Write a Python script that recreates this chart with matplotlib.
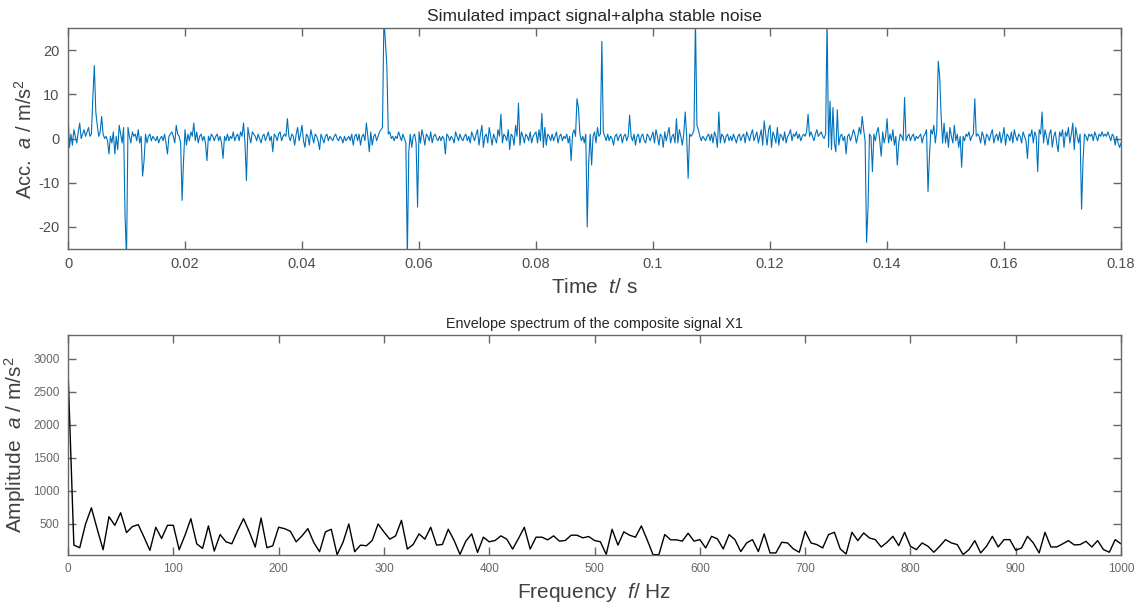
import numpy as np
import matplotlib.pyplot as plt
from matplotlib.ticker import FuncFormatter

plt.rcParams['font.family'] = ['Liberation Sans', 'DejaVu Sans']
plt.rcParams['mathtext.fontset'] = 'custom'
plt.rcParams['mathtext.rm'] = 'Liberation Sans'
plt.rcParams['mathtext.it'] = 'Liberation Sans:italic'
plt.rcParams['axes.unicode_minus'] = False

# Time signal over 0.18 s, one value every 0.25 ms
signal = [
    5.5, -2.0, 1.0, -1.5, 2.0, 0.5, -1.0, 1.5, 3.5, 0.0, 1.0, 2.0, 0.5, 1.5, 2.5, 0.5, 1.0, 9.5, 16.5, 6.0,
    3.0, 0.5, 1.5, 5.0, 1.0, 0.0, 0.5, -0.5, -3.5, 0.5, -1.0, 1.5, -3.5, 0.5, -2.5, 3.0, 1.0, -1.0, 2.5, -17.5,
    -27.0, 2.5, 0.5, -1.0, 1.5, 0.5, 1.0, -0.5, 2.0, -1.0, 0.5, -8.5, -5.0, 1.0, -1.0, 0.5, 1.0, -0.5, 0.5, 0.0,
    -0.5, 0.5, -1.0, 0.0, 0.5, -0.5, 1.0, -1.0, -3.5, 0.5, 1.0, 1.5, 0.5, -1.0, 3.0, 1.0, 0.5, -1.0, -14.0, -5.0,
    2.0, -1.5, 1.0, -0.5, 1.5, 0.5, 3.5, -0.5, 1.5, -1.0, 0.5, 1.0, -0.5, 0.5, -1.0, -5.0, 0.5, -0.5, 1.0, 0.5,
    -0.5, 0.5, 1.0, -0.5, 0.5, -1.0, -4.5, 0.5, -0.5, 1.0, -0.5, 0.5, 0.0, 1.5, -0.5, 0.5, 1.0, -0.5, 1.5, 0.5,
    3.5, -1.0, -9.5, 2.5, 0.5, -1.0, 1.5, 1.0, 0.5, -0.5, 1.0, 0.0, -1.0, 0.5, 1.0, -0.5, 0.5, 1.5, -0.5, 0.5,
    -3.0, 1.0, 0.5, -0.5, 1.0, 1.5, -0.5, 0.5, 1.0, 0.5, 4.5, 0.5, -0.5, 1.0, 0.5, -1.5, 1.0, 2.5, -0.5, 1.0,
    3.0, -0.5, -2.0, 1.0, 0.5, -1.5, 2.0, 0.5, -1.0, 1.0, 0.5, -0.5, -2.5, 1.0, 0.0, -1.0, 0.5, 1.0, -0.5, 0.5,
    0.0, -0.5, 0.5, 1.0, 0.0, -0.5, 0.5, 0.0, -1.0, 0.5, -0.5, 0.0, 0.5, -0.5, 1.0, -1.5, 0.5, 1.0, -0.5, 1.0,
    -1.5, 0.5, 1.0, -0.5, 3.5, 0.5, -3.0, 1.5, -1.5, 0.5, 1.0, -0.5, 0.5, 1.5, 2.0, 2.5, 27.0, 22.0, 16.5, 1.0,
    1.5, 0.0, 0.5, -0.5, 0.5, 0.0, 1.5, 0.5, -0.5, 1.0, 0.0, -1.0, -27.0, -3.0, 1.0, -2.0, 0.5, 1.0, -1.0, -15.5,
    1.5, -1.0, 2.0, 0.5, -1.5, 1.0, 0.5, -0.5, 1.5, -1.0, 0.5, 1.0, 0.0, -0.5, 0.5, -0.5, 0.5, 0.0, -3.5, 1.0,
    0.5, -0.5, 0.5, 0.0, -1.0, 1.5, 0.5, -0.5, 1.0, 0.0, -0.5, 0.5, 1.0, -0.5, 0.5, -1.0, 1.5, 0.5, -0.5, 1.0,
    2.0, -1.5, 1.0, 3.0, -2.0, 0.5, 1.0, -1.0, 2.5, 0.5, -1.5, 1.0, 0.0, -1.0, 2.0, 0.5, 5.5, -1.0, 1.0, 0.5,
    -0.5, 2.0, -2.5, 1.0, 0.5, -1.5, 3.0, 0.5, 8.0, -1.5, 1.5, 0.5, -1.0, 1.0, 0.5, -0.5, 1.5, -1.0, 0.5, 1.0,
    1.5, -1.0, 2.0, -0.5, 5.7, -2.0, 2.5, -1.5, 1.0, 0.5, -0.5, 1.0, -0.5, 0.5, 1.5, -1.0, 0.5, 1.0, -0.5, 0.5,
    0.0, 1.0, -1.0, 0.5, -5.0, 1.0, 2.0, 0.5, 9.0, 7.0, 1.0, -0.5, 0.5, -1.0, 1.0, -20.0, -5.5, 1.0, -6.0, 0.5,
    1.5, -1.0, 2.5, 0.5, 1.0, 22.0, 1.5, 0.5, -0.5, 1.0, -0.5, 0.5, 0.0, -1.5, 0.5, 1.0, -0.5, 0.5, 1.0, -1.0,
    0.5, 1.0, -0.5, 0.5, 5.3, 0.5, -0.5, 1.0, -1.5, 0.5, 1.0, -1.0, 0.5, 1.0, -0.5, -1.0, 1.0, 0.5, -0.5, 0.5,
    1.5, -1.0, 2.0, 0.5, -1.5, 1.0, 0.5, -2.0, 1.5, -0.5, 1.0, 2.5, -1.0, 0.5, 1.0, -1.0, 4.5, -1.0, 2.0, 0.5,
    -1.5, 1.0, 6.0, 0.5, -9.0, 1.0, 0.5, 1.0, 2.0, 27.0, 3.0, 2.0, 0.5, -0.5, 0.5, 0.0, -0.5, 0.5, 1.0, -0.5,
    1.0, -1.0, 1.5, 0.5, -2.0, 6.0, -1.0, 1.0, 0.5, -1.0, 0.5, 1.0, -0.5, 0.5, -0.5, 1.0, 0.0, -1.0, 0.5, 1.0,
    -0.5, 0.5, 1.0, -1.0, 1.5, 0.5, -0.5, 1.0, 2.0, -0.5, 0.5, 1.5, -1.0, 0.5, 2.0, -1.5, 4.0, 1.0, -1.5, 2.0,
    3.0, -2.0, 1.5, 0.5, -1.0, 2.5, -1.5, 1.0, 0.5, -0.5, 1.5, -1.0, 0.5, 1.0, 2.0, -0.5, 1.0, 0.5, 1.5, 0.0,
    1.0, -0.5, 0.5, 1.0, 0.5, 1.5, 5.5, 0.5, 1.5, 0.5, -0.5, 1.0, 2.0, 0.5, 1.0, 1.5, 0.5, 0.0, 1.0, 27.0,
    -2.0, 8.5, -2.5, 7.0, -1.0, -3.0, 6.5, -1.5, 0.5, 1.0, -0.5, 0.5, -3.5, 0.5, 1.0, -0.5, 0.5, 2.0, 1.0, -1.0,
    0.5, 2.5, 1.0, 5.0, 2.0, -0.5, -23.5, -15.5, 1.0, 0.5, -7.5, 1.0, -0.5, 1.5, 2.5, -0.5, -4.0, 1.5, -1.0, 0.5,
    4.5, -1.0, 1.0, -0.5, 2.0, -1.5, 0.5, -6.0, -1.0, 1.0, 0.5, -0.5, 9.3, -0.5, 0.5, 1.0, -0.5, 0.5, 1.0, -0.5,
    0.5, 0.0, 0.5, 1.0, -1.0, 0.5, 1.0, 2.0, -12.0, -4.0, 2.0, 1.0, 3.0, -1.0, 2.0, 17.5, 14.0, 5.0, -1.0, 3.5,
    -1.0, 1.5, -2.0, 2.5, 0.5, -1.0, 3.0, -0.5, 1.0, -2.0, 0.5, -6.5, 0.5, -0.5, 1.0, 0.5, 1.5, -0.5, 0.5, 1.0,
    9.0, 0.5, 1.0, 0.5, -1.0, 1.5, 0.5, -1.5, 1.0, 0.5, -0.5, 1.0, 2.0, -1.0, 0.5, 1.0, -0.5, 1.5, -1.0, 0.5,
    2.5, -1.5, 1.0, 0.5, -0.5, 1.5, -1.0, 2.0, 0.5, -0.5, 1.0, 0.5, -1.0, 1.5, 0.5, -0.5, -4.5, 1.0, 0.5, 2.0,
    -1.0, 1.5, 0.5, -7.5, 2.0, 1.0, 6.0, -1.0, 2.0, 0.5, -1.5, 1.0, 2.0, -2.0, 0.5, 1.5, -1.0, -3.0, 1.5, 0.5,
    2.0, -2.0, 1.5, 0.5, 2.5, -1.0, 1.0, 3.5, -2.5, 2.5, 0.5, -1.0, 1.0, -16.0, -5.0, 1.0, 0.5, -0.5, 1.0, 0.5,
    1.0, -0.5, 1.5, 0.5, -0.5, 1.0, 0.5, 1.5, 0.5, 1.0, 0.5, 1.5, 0.5, -0.5, 1.0, 0.5, -1.5, 0.5, -1.0, -2.0,
    -1.0,
]
time = np.linspace(0, 0.18, len(signal))

# Envelope spectrum, resolution 1/0.18 s
spectrum = [
    2830, 180, 140, 500, 745, 420, 110, 610, 480, 670, 370, 460, 490, 300, 100, 450, 280, 480, 480, 110,
    330, 580, 200, 130, 470, 90, 340, 230, 200, 400, 580, 380, 150, 590, 140, 170, 450, 430, 390, 230,
    320, 430, 220, 80, 380, 420, 35, 220, 500, 80, 180, 170, 250, 500, 380, 270, 320, 555, 120, 190,
    350, 270, 450, 180, 190, 420, 250, 40, 240, 350, 70, 300, 230, 250, 320, 270, 120, 280, 450, 120,
    300, 300, 260, 320, 240, 250, 330, 330, 290, 310, 250, 230, 40, 420, 180, 380, 330, 300, 470, 260,
    35, 35, 340, 260, 260, 240, 360, 240, 263, 137, 313, 275, 122, 339, 263, 82, 213, 263, 82, 350,
    62, 62, 223, 213, 122, 72, 390, 213, 188, 137, 339, 374, 122, 46, 374, 248, 364, 288, 263, 152,
    223, 313, 172, 374, 162, 112, 213, 162, 72, 162, 263, 213, 188, 36, 112, 248, 62, 162, 313, 152,
    263, 263, 102, 137, 313, 213, 62, 374, 152, 152, 198, 248, 183, 188, 238, 152, 248, 112, 72, 263,
    198,
]
freq = np.linspace(0, 1000, len(spectrum))

fig = plt.figure(figsize=(11.43, 6.12), dpi=100)
ax1 = fig.add_axes([0.0595, 0.5931, 0.9213, 0.3611])
ax2 = fig.add_axes([0.0595, 0.0931, 0.9213, 0.3595])

# top: time signal
ax1.plot(time, signal, color='#0072BD', linewidth=0.8)
ax1.set_xlim(0, 0.18)
ax1.set_ylim(-25, 25)
ax1.set_xticks(np.arange(0, 0.181, 0.02))
ax1.set_yticks([-20, -10, 0, 10, 20])
ax1.xaxis.set_major_formatter(FuncFormatter(lambda v, p: '%g' % round(v, 3)))
ax1.set_title('Simulated impact signal+alpha stable noise', fontsize=12.5, color='#262626', pad=5)
ax1.set_xlabel(r'Time  $\it{t}$/ s', fontsize=15, color='#404040', labelpad=5)
ax1.set_ylabel(r'Acc.  $\it{a}$ / m/s$^2$', fontsize=14.5, color='#404040', labelpad=2)
ax1.tick_params(direction='in', top=True, right=True, length=5.5, width=1,
                labelsize=10.5, labelcolor='#4d4d4d', color='#666666', pad=6)

# bottom: envelope spectrum
ax2.plot(freq, spectrum, color='black', linewidth=1.0)
ax2.set_xlim(0, 1000)
ax2.set_ylim(30, 3360)
ax2.set_xticks(np.arange(0, 1001, 100))
ax2.set_yticks([500, 1000, 1500, 2000, 2500, 3000])
ax2.set_title('Envelope spectrum of the composite signal X1', fontsize=10.4, color='#262626', pad=5)
ax2.set_xlabel(r'Frequency  $\it{f}$/ Hz', fontsize=15, color='#404040', labelpad=4)
ax2.set_ylabel(r'Amplitude  $\it{a}$ / m/s$^2$', fontsize=15, color='#404040', labelpad=4)
ax2.tick_params(direction='in', top=True, right=True, length=5.5, width=1,
                labelsize=8.5, labelcolor='#666666', color='#666666', pad=6)

for ax in (ax1, ax2):
    for s in ax.spines.values():
        s.set_color('#666666')
        s.set_linewidth(1)

fig.savefig('out.png', dpi=100)
